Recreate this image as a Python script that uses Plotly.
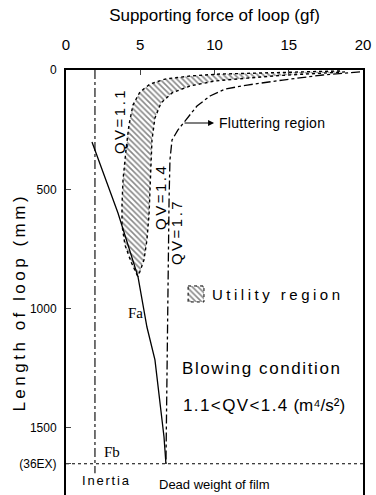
import plotly.graph_objects as go

# ---- data ----
qv11_x = [18.45, 15.76, 13.06, 10.37, 8.35, 6.67, 5.66, 4.98, 4.51, 4.24, 4.04, 3.84, 3.77, 3.77, 3.97, 4.38, 4.85]
qv11_y = [4, 8, 10, 17, 25, 38, 59, 92, 147, 230, 335, 461, 566, 649, 733, 804, 867]

qv14_x = [18.79, 16.63, 14.41, 12.19, 10.03, 8.35, 7.14, 6.40, 5.99, 5.79, 5.72, 5.66, 5.59, 5.45, 5.25, 4.85]
qv14_y = [8, 15, 23, 34, 46, 67, 96, 138, 201, 293, 398, 503, 608, 712, 796, 867]

qv17_x = [19.8, 17.3, 14.6, 12.2, 10.7, 9.70, 8.82, 8.15, 7.54, 7.14, 7.00, 6.94, 6.87, 6.80, 6.73]
qv17_y = [8, 21, 42, 63, 80, 109, 151, 201, 251, 293, 377, 545, 964, 1383, 1650]

fa_x = [1.75, 3.50, 4.85, 5.45, 5.99, 6.33, 6.60, 6.73]
fa_y = [302, 599, 867, 1077, 1215, 1383, 1538, 1650]

inertia_force = 1.95
inertia_span = [0, 1690]
film_length_36ex = 1650

x_ticks = [0, 5, 10, 15, 20]
y_ticks = [0, 500, 1000, 1500, film_length_36ex]
y_ticktext = ["0", "500", "1000", "1500", "(36EX)"]

NARROW = "Liberation Sans Narrow, Arial Narrow, Liberation Sans, sans-serif"
SERIF = "Liberation Serif, DejaVu Serif, serif"

def spaced(t, px):
    return f'<span style="letter-spacing:{px}px">{t}</span>'

fig = go.Figure()

HATCH = dict(shape="\\", fgcolor="#111", bgcolor="white", size=4, solidity=0.4)

# utility region (hatched band between QV=1.1 and QV=1.4)
band_x = qv11_x + qv14_x[::-1]
band_y = qv11_y + qv14_y[::-1]
fig.add_trace(go.Scatter(x=band_x, y=band_y, fill="toself", mode="lines",
                         line=dict(color="rgba(0,0,0,0)", width=0),
                         fillcolor="rgba(0,0,0,0)", fillpattern=HATCH,
                         hoverinfo="skip", showlegend=False))
fig.add_trace(go.Scatter(x=qv11_x, y=qv11_y, mode="lines", line=dict(color="black", width=1.4, dash="dot"),
                         showlegend=False))
fig.add_trace(go.Scatter(x=qv14_x, y=qv14_y, mode="lines", line=dict(color="black", width=1.4, dash="dot"),
                         showlegend=False))
fig.add_trace(go.Scatter(x=qv17_x, y=qv17_y, mode="lines", line=dict(color="black", width=1.3, dash="dashdot"),
                         showlegend=False))
fig.add_trace(go.Scatter(x=fa_x, y=fa_y, mode="lines", line=dict(color="black", width=1.3),
                         showlegend=False))
fig.add_trace(go.Scatter(x=[inertia_force, inertia_force], y=inertia_span, mode="lines",
                         line=dict(color="black", width=1.1, dash="dashdot"), showlegend=False))
fig.add_trace(go.Scatter(x=[0, 20], y=[film_length_36ex, film_length_36ex], mode="lines",
                         line=dict(color="black", width=1.2, dash="dot"), showlegend=False))

# legend key square for "Utility region"
fig.add_trace(go.Scatter(x=[8.22, 9.29, 9.29, 8.22, 8.22], y=[905, 905, 972, 972, 905], fill="toself",
                         mode="lines", line=dict(color="black", width=1, dash="dot"),
                         fillcolor="rgba(0,0,0,0)", fillpattern=HATCH,
                         showlegend=False, hoverinfo="skip"))

ann = []
def txt(x, y, t, size=15, fam=NARROW, xanchor="center", angle=0):
    ann.append(dict(x=x, y=y, xref="x", yref="y", text=t, showarrow=False, xanchor=xanchor,
                    yanchor="middle", textangle=angle, font=dict(family=fam, size=size, color="black")))

txt(10.15, 222, spaced("Fluttering region", 0.3), 14, xanchor="left")
ann.append(dict(x=9.97, y=222, ax=7.88, ay=222, axref="x", ayref="y", xref="x", yref="y", text="",
                showarrow=True, arrowhead=2, arrowsize=1, arrowwidth=1.2, arrowcolor="black"))
txt(9.70, 939, spaced("Utility region", 3.5), 15, xanchor="left")
txt(7.68, 1249, spaced("Blowing condition", 1.6), 17, xanchor="left")
txt(7.75, 1404, spaced("1.1&lt;QV&lt;1.4", 1.4) + " (m⁴/s²)", 17, xanchor="left")
txt(4.65, 1018, "Fa", 15, fam=SERIF)
txt(3.10, 1600, "Fb", 15, fam=SERIF)
txt(2.76, 1722, spaced("Inertia", 1.8), 13)
txt(6.1, 1735, "Dead weight of film", 13, xanchor="left")
txt(3.57, 214, spaced("QV=1.1", 2.5), 15, angle=-90)
txt(6.40, 532, spaced("QV=1.4", 2.5), 15, angle=-90)
txt(7.41, 679, spaced("QV=1.7", 2.5), 15, angle=-90)

# y-axis title placed as a rotated label left of the tick labels
ann.append(dict(x=-0.155, y=0.455, xref="paper", yref="paper", showarrow=False, textangle=-90,
                xanchor="center", yanchor="middle",
                text=spaced("Length of loop (mm)", 3.5), font=dict(size=17, family=NARROW, color="black")))

fig.update_layout(
    width=376, height=495,
    margin=dict(l=66, r=13, t=70, b=0),
    plot_bgcolor="white", paper_bgcolor="white",
    annotations=ann,
    font=dict(family=NARROW, color="black"),
)
fig.update_xaxes(
    side="top", range=[0, 20], tickvals=x_ticks, ticks="inside", ticklen=5, tickwidth=1.2,
    tickfont=dict(size=15, family=NARROW), ticklabelstandoff=12, automargin=False,
    showline=True, linecolor="black", linewidth=1.8, mirror=False, showgrid=False, zeroline=False,
    title=dict(text="Supporting force of loop (gf)", font=dict(size=17, family=NARROW), standoff=10),
)
fig.update_yaxes(
    range=[1781, 0], tickvals=y_ticks, ticktext=y_ticktext, ticks="inside", ticklen=5, tickwidth=1.2,
    tickfont=dict(size=12, family=NARROW), ticklabelstandoff=5, automargin=False,
    showline=True, linecolor="black", linewidth=2, mirror=True, showgrid=False, zeroline=False,
)

fig.write_html("out.html")
